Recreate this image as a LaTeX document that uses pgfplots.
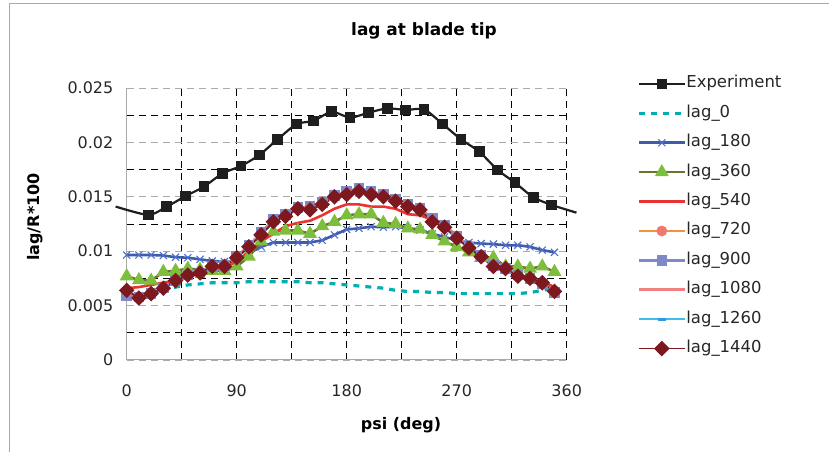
\documentclass[border=0pt]{standalone}
\usepackage{fontspec}
\setmainfont{DejaVu Sans}
\usepackage{pgfplots}
\pgfplotsset{compat=1.18}
\usepackage{pgfplotstable}

\definecolor{expcol}{RGB}{30,30,30}
\definecolor{lagzero}{RGB}{0,176,176}
\definecolor{lagone}{RGB}{63,92,168}
\definecolor{lagonem}{RGB}{80,110,205}
\definecolor{lagthree}{RGB}{110,115,50}
\definecolor{lagthreem}{RGB}{125,190,60}
\definecolor{lagfive}{RGB}{235,50,50}
\definecolor{lagseven}{RGB}{245,145,60}
\definecolor{lagsevenm}{RGB}{240,120,110}
\definecolor{lagnine}{RGB}{128,136,200}
\definecolor{lagten}{RGB}{240,128,128}
\definecolor{lagtwelve}{RGB}{60,190,230}
\definecolor{lagfourteen}{RGB}{125,25,30}
\definecolor{framegray}{RGB}{170,170,170}

\newcommand\tickfont{\fontsize{16}{19}\selectfont}
\newcommand\legfont{\fontsize{16.5}{19}\selectfont}
\newcommand\labfont{\fontsize{16}{19}\selectfont\bfseries}
\newcommand\titfont{\fontsize{17}{20}\selectfont\bfseries}

% experiment: first and last rows only carry the line beyond the axis
\pgfplotstableread{
psi val
-9 0.01410
17.7 0.01333
32.7 0.01409
48.3 0.01507
63.2 0.01593
78.5 0.01716
93.5 0.01783
108.5 0.01884
123.5 0.02028
139 0.02169
152.7 0.02197
167.7 0.02282
182.7 0.02227
197.7 0.02273
213.3 0.02313
228.3 0.02298
243.3 0.02304
258.5 0.02169
273.5 0.02028
288.5 0.01915
303.5 0.01746
317.7 0.01630
332.7 0.01495
347.7 0.01425
368 0.01354
}\expdata

\pgfplotstableread{
psi l0 l180 l360 l540 l720 l900 l1080 l1260 l1440
0 0.0060 0.00965 0.0077 0.0066 0.0063 0.0059 0.0060 0.0063 0.0064
10 0.0060 0.00965 0.00735 0.0067 0.0057 0.0058 0.0058 0.0057 0.0057
20 0.0062 0.00965 0.0073 0.0069 0.0061 0.0061 0.0061 0.0061 0.0061
30 0.0065 0.0096 0.0081 0.0071 0.0066 0.0066 0.0066 0.0066 0.0066
40 0.0067 0.00945 0.0082 0.0073 0.0073 0.0073 0.0073 0.0073 0.0073
50 0.0069 0.0094 0.0084 0.0077 0.0078 0.0078 0.0078 0.0078 0.0078
60 0.0070 0.00925 0.0083 0.0079 0.0080 0.0080 0.0080 0.0080 0.0080
70 0.0071 0.0091 0.0082 0.0083 0.0086 0.0086 0.0086 0.0086 0.0086
80 0.0071 0.00905 0.0082 0.0086 0.0086 0.0087 0.0087 0.0086 0.0086
90 0.0071 0.00905 0.0086 0.0090 0.0094 0.0095 0.0095 0.0094 0.0094
100 0.0072 0.0098 0.0095 0.0100 0.0104 0.0105 0.0105 0.0104 0.0104
110 0.0072 0.0104 0.0109 0.0109 0.0116 0.0117 0.0116 0.0115 0.0115
120 0.0072 0.0108 0.0118 0.0116 0.0128 0.0129 0.0128 0.0127 0.0127
130 0.0072 0.0108 0.0119 0.0123 0.0133 0.0134 0.0134 0.0132 0.0132
140 0.0072 0.0108 0.0119 0.0126 0.0139 0.0140 0.0140 0.0139 0.0139
150 0.0071 0.0108 0.0116 0.0128 0.0140 0.0141 0.0141 0.0138 0.0138
160 0.0071 0.0110 0.0123 0.0133 0.0144 0.0145 0.0145 0.0143 0.0143
170 0.0070 0.0115 0.0127 0.0139 0.0150 0.0151 0.0151 0.0150 0.0150
180 0.0069 0.0120 0.0133 0.0143 0.0153 0.0155 0.0155 0.0152 0.0152
190 0.0068 0.0121 0.0134 0.0143 0.0156 0.0158 0.0157 0.0155 0.0155
200 0.0067 0.01225 0.0134 0.0141 0.0153 0.0155 0.0155 0.0152 0.0152
210 0.0066 0.0122 0.0126 0.0141 0.0151 0.0152 0.0152 0.0150 0.0150
220 0.0064 0.01225 0.0125 0.0139 0.0147 0.0148 0.0148 0.0146 0.0146
230 0.0063 0.0121 0.0121 0.0134 0.0142 0.0143 0.0143 0.0141 0.0141
240 0.0063 0.01195 0.0120 0.0133 0.0138 0.0139 0.0139 0.0138 0.0138
250 0.0062 0.0116 0.0115 0.0129 0.0128 0.0130 0.0130 0.0127 0.0127
260 0.0062 0.0113 0.0109 0.0123 0.0123 0.0124 0.0124 0.0122 0.0122
270 0.0061 0.0110 0.0104 0.0113 0.0113 0.0114 0.0114 0.0112 0.0112
280 0.0061 0.0108 0.0099 0.0104 0.0103 0.0104 0.0104 0.0103 0.0103
290 0.0061 0.0107 0.0094 0.0097 0.0095 0.0096 0.0096 0.0095 0.0095
300 0.0061 0.01065 0.0094 0.0089 0.0086 0.0087 0.0087 0.0086 0.0086
310 0.0061 0.01055 0.0086 0.0083 0.0084 0.0084 0.0084 0.0084 0.0084
320 0.0061 0.01055 0.0086 0.0078 0.0077 0.0078 0.0078 0.0077 0.0077
330 0.0062 0.0104 0.0084 0.0075 0.0075 0.0075 0.0075 0.0075 0.0075
340 0.0064 0.0101 0.0086 0.0072 0.0071 0.0070 0.0071 0.0071 0.0071
350 0.0066 0.0099 0.0081 0.0067 0.0063 0.0062 0.0063 0.0063 0.0063
}\lagdata

\begin{document}
\begin{tikzpicture}[x=1bp,y=1bp]
\path[use as bounding box] (-126.7,-92) rectangle (702.3,360);
\draw[framegray, line width=0.8bp] (-117.7,-200) -- (-117.7,357) -- (800,357);
\begin{axis}[
  at={(0,0)}, anchor=south west,
  scale only axis, width=440bp, height=272bp,
  xmin=0, xmax=360, ymin=0, ymax=0.025,
  clip=false,
  axis x line*=bottom, axis y line*=left,
  axis line style={framegray, line width=1bp, -},
  xtick={0,90,180,270}, minor xtick={45,135,225,315},
  extra x ticks={360}, extra x tick labels={360},
  extra x tick style={grid style={framegray, line width=0.8bp, dash pattern=on 7bp off 5bp}},
  ytick={0,0.005,0.01,0.015,0.02,0.025},
  yticklabels={0,0.005,0.01,0.015,0.02,0.025},
  minor ytick={0.0025,0.0075,0.0125,0.0175,0.0225},
  scaled y ticks=false,
  /pgf/number format/assume math mode=true,
  xmajorgrids, xminorgrids, ymajorgrids, yminorgrids,
  major x grid style={black, line width=0.8bp, dash pattern=on 7bp off 5bp},
  minor x grid style={black, line width=0.8bp, dash pattern=on 7bp off 5bp},
  major y grid style={framegray, line width=0.8bp, dash pattern=on 7bp off 5bp},
  minor y grid style={black, line width=0.8bp, dash pattern=on 7bp off 5bp},
  major tick length=0pt, minor tick length=0pt,
  tick label style={font=\tickfont, text=black!85},
  xticklabel style={yshift=-21bp},
  yticklabel style={xshift=-10bp},
  title={lag at blade tip},
  title style={font=\titfont, at={(axis description cs:0.6757,1.1875)}, anchor=center},
  xlabel={psi (deg)},
  xlabel style={font=\labfont, at={(axis description cs:0.6234,-0.239)}, anchor=center},
  ylabel={lag/R*100},
  ylabel style={font=\labfont, at={(axis description cs:-0.2084,0.5257)}, anchor=center, rotate=0},
  legend style={at={(axis description cs:1.1598,1.0467)}, anchor=north west,
    draw=none, fill=none, inner sep=0pt, row sep=12.4bp, column sep=0bp,
    font=\legfont, text=black!85,
    nodes={inner sep=0pt, text height=12.5bp, text depth=4.5bp}},
  legend cell align=left,
  every axis plot/.append style={
    legend image code/.code={\draw[mark repeat=2,mark phase=2] plot coordinates {(0bp,0bp) (23bp,0bp) (46bp,0bp)};}},
]
\addplot[expcol, line width=2.2bp, smooth, tension=0.4, mark=square*, mark size=4.2bp,
  mark indices={2,3,4,5,6,7,8,9,10,11,12,13,14,15,16,17,18,19,20,21,22,23,24},
  mark options={solid},
  legend image code/.code={\draw[mark indices={2}] plot coordinates {(0bp,0bp) (23bp,0bp) (46bp,0bp)};}]
  table[x=psi, y=val] {\expdata};
\addlegendentry{Experiment}
\addplot[lagzero, line width=3.2bp, dash pattern=on 6bp off 6bp] table[x=psi, y=l0] {\lagdata};
\addlegendentry{lag\_0}
\addplot[lagone, line width=2.6bp, mark=x, mark size=5bp,
  mark options={lagonem, line width=1.1bp}] table[x=psi, y=l180] {\lagdata};
\addlegendentry{lag\_180}
\addplot[lagthree, line width=2.6bp, mark=triangle*, mark size=5.5bp,
  mark options={lagthreem, draw=lagthreem}] table[x=psi, y=l360] {\lagdata};
\addlegendentry{lag\_360}
\addplot[lagfive, line width=2.6bp] table[x=psi, y=l540] {\lagdata};
\addlegendentry{lag\_540}
\addplot[lagseven, line width=2.6bp, mark=*, mark size=4bp,
  mark options={lagsevenm, draw=lagsevenm}] table[x=psi, y=l720] {\lagdata};
\addlegendentry{lag\_720}
\addplot[lagnine, line width=2.6bp, mark=square*, mark size=4bp] table[x=psi, y=l900] {\lagdata};
\addlegendentry{lag\_900}
\addplot[lagten, line width=2.6bp, mark=-, mark size=4bp] table[x=psi, y=l1080] {\lagdata};
\addlegendentry{lag\_1080}
\addplot[lagtwelve, line width=2.2bp, mark=-, mark size=4bp,
  mark options={line width=3bp, color=lagtwelve!80!blue}] table[x=psi, y=l1260] {\lagdata};
\addlegendentry{lag\_1260}
\addplot[lagfourteen, line width=1.8bp, mark=square*, mark size=4.6bp,
  mark options={rotate=45}] table[x=psi, y=l1440] {\lagdata};
\addlegendentry{lag\_1440}
\end{axis}
\end{tikzpicture}
\end{document}
